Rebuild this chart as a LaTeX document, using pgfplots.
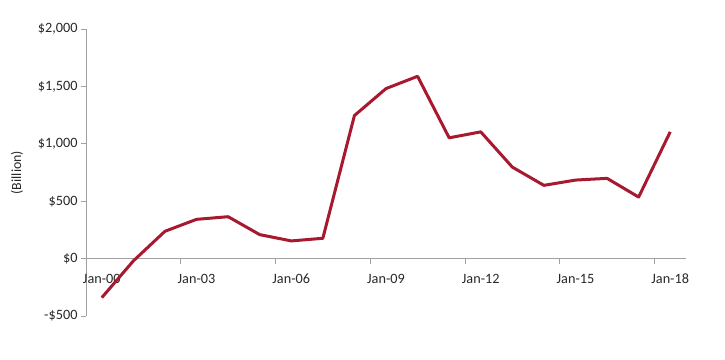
\documentclass[border=0pt]{standalone}
\usepackage{pgfplots}
\pgfplotsset{compat=1.18}
\usepackage{fontspec}
\setmainfont{Carlito}
\definecolor{linered}{RGB}{166,25,46}
\definecolor{axgray}{RGB}{160,160,160}
\definecolor{txt}{RGB}{40,40,40}
\begin{document}
\begin{tikzpicture}[x=1bp,y=1bp]
\useasboundingbox (0,0) rectangle (725,359);
\begin{axis}[
  at={(86bp,43bp)}, anchor=south west,
  scale only axis, width=600bp, height=287bp,
  xmin=-0.5, xmax=18.5, ymin=-500, ymax=2000,
  axis x line=middle, axis y line=left,
  axis line style={-, draw=axgray, line width=0.8bp},
  xtick={2.5,5.5,8.5,11.5,14.5,17.5}, xticklabels={},
  extra x ticks={0,3,6,9,12,15,18},
  extra x tick labels={Jan-00,Jan-03,Jan-06,Jan-09,Jan-12,Jan-15,Jan-18},
  extra x tick style={major tick length=0pt, xticklabel style={yshift=-12bp}},
  ytick={-500,0,500,1000,1500,2000},
  yticklabels={{-\$500},{\$0},{\$500},{\$1,000},{\$1,500},{\$2,000}},
  tick align=outside, major tick length=5bp,
  tick style={draw=axgray, line width=0.8bp},
  tick label style={font=\fontsize{14.3}{17}\selectfont, text=txt},
  ylabel={(Billion)},
  ylabel style={at={(axis description cs:-0.115,0.5)}, anchor=center, font=\fontsize{14}{17}\selectfont, text=txt},
  clip=false,
]
\addplot[linered, line width=3bp, line join=round] coordinates {
(0,-340) (1,-20) (2,238) (3,342) (4,365) (5,209) (6,154) (7,177)
(8,1246) (9,1481) (10,1588) (11,1052) (12,1104) (13,797) (14,638)
(15,684) (16,699) (17,536) (18,1104)
};
\end{axis}
\end{tikzpicture}
\end{document}
